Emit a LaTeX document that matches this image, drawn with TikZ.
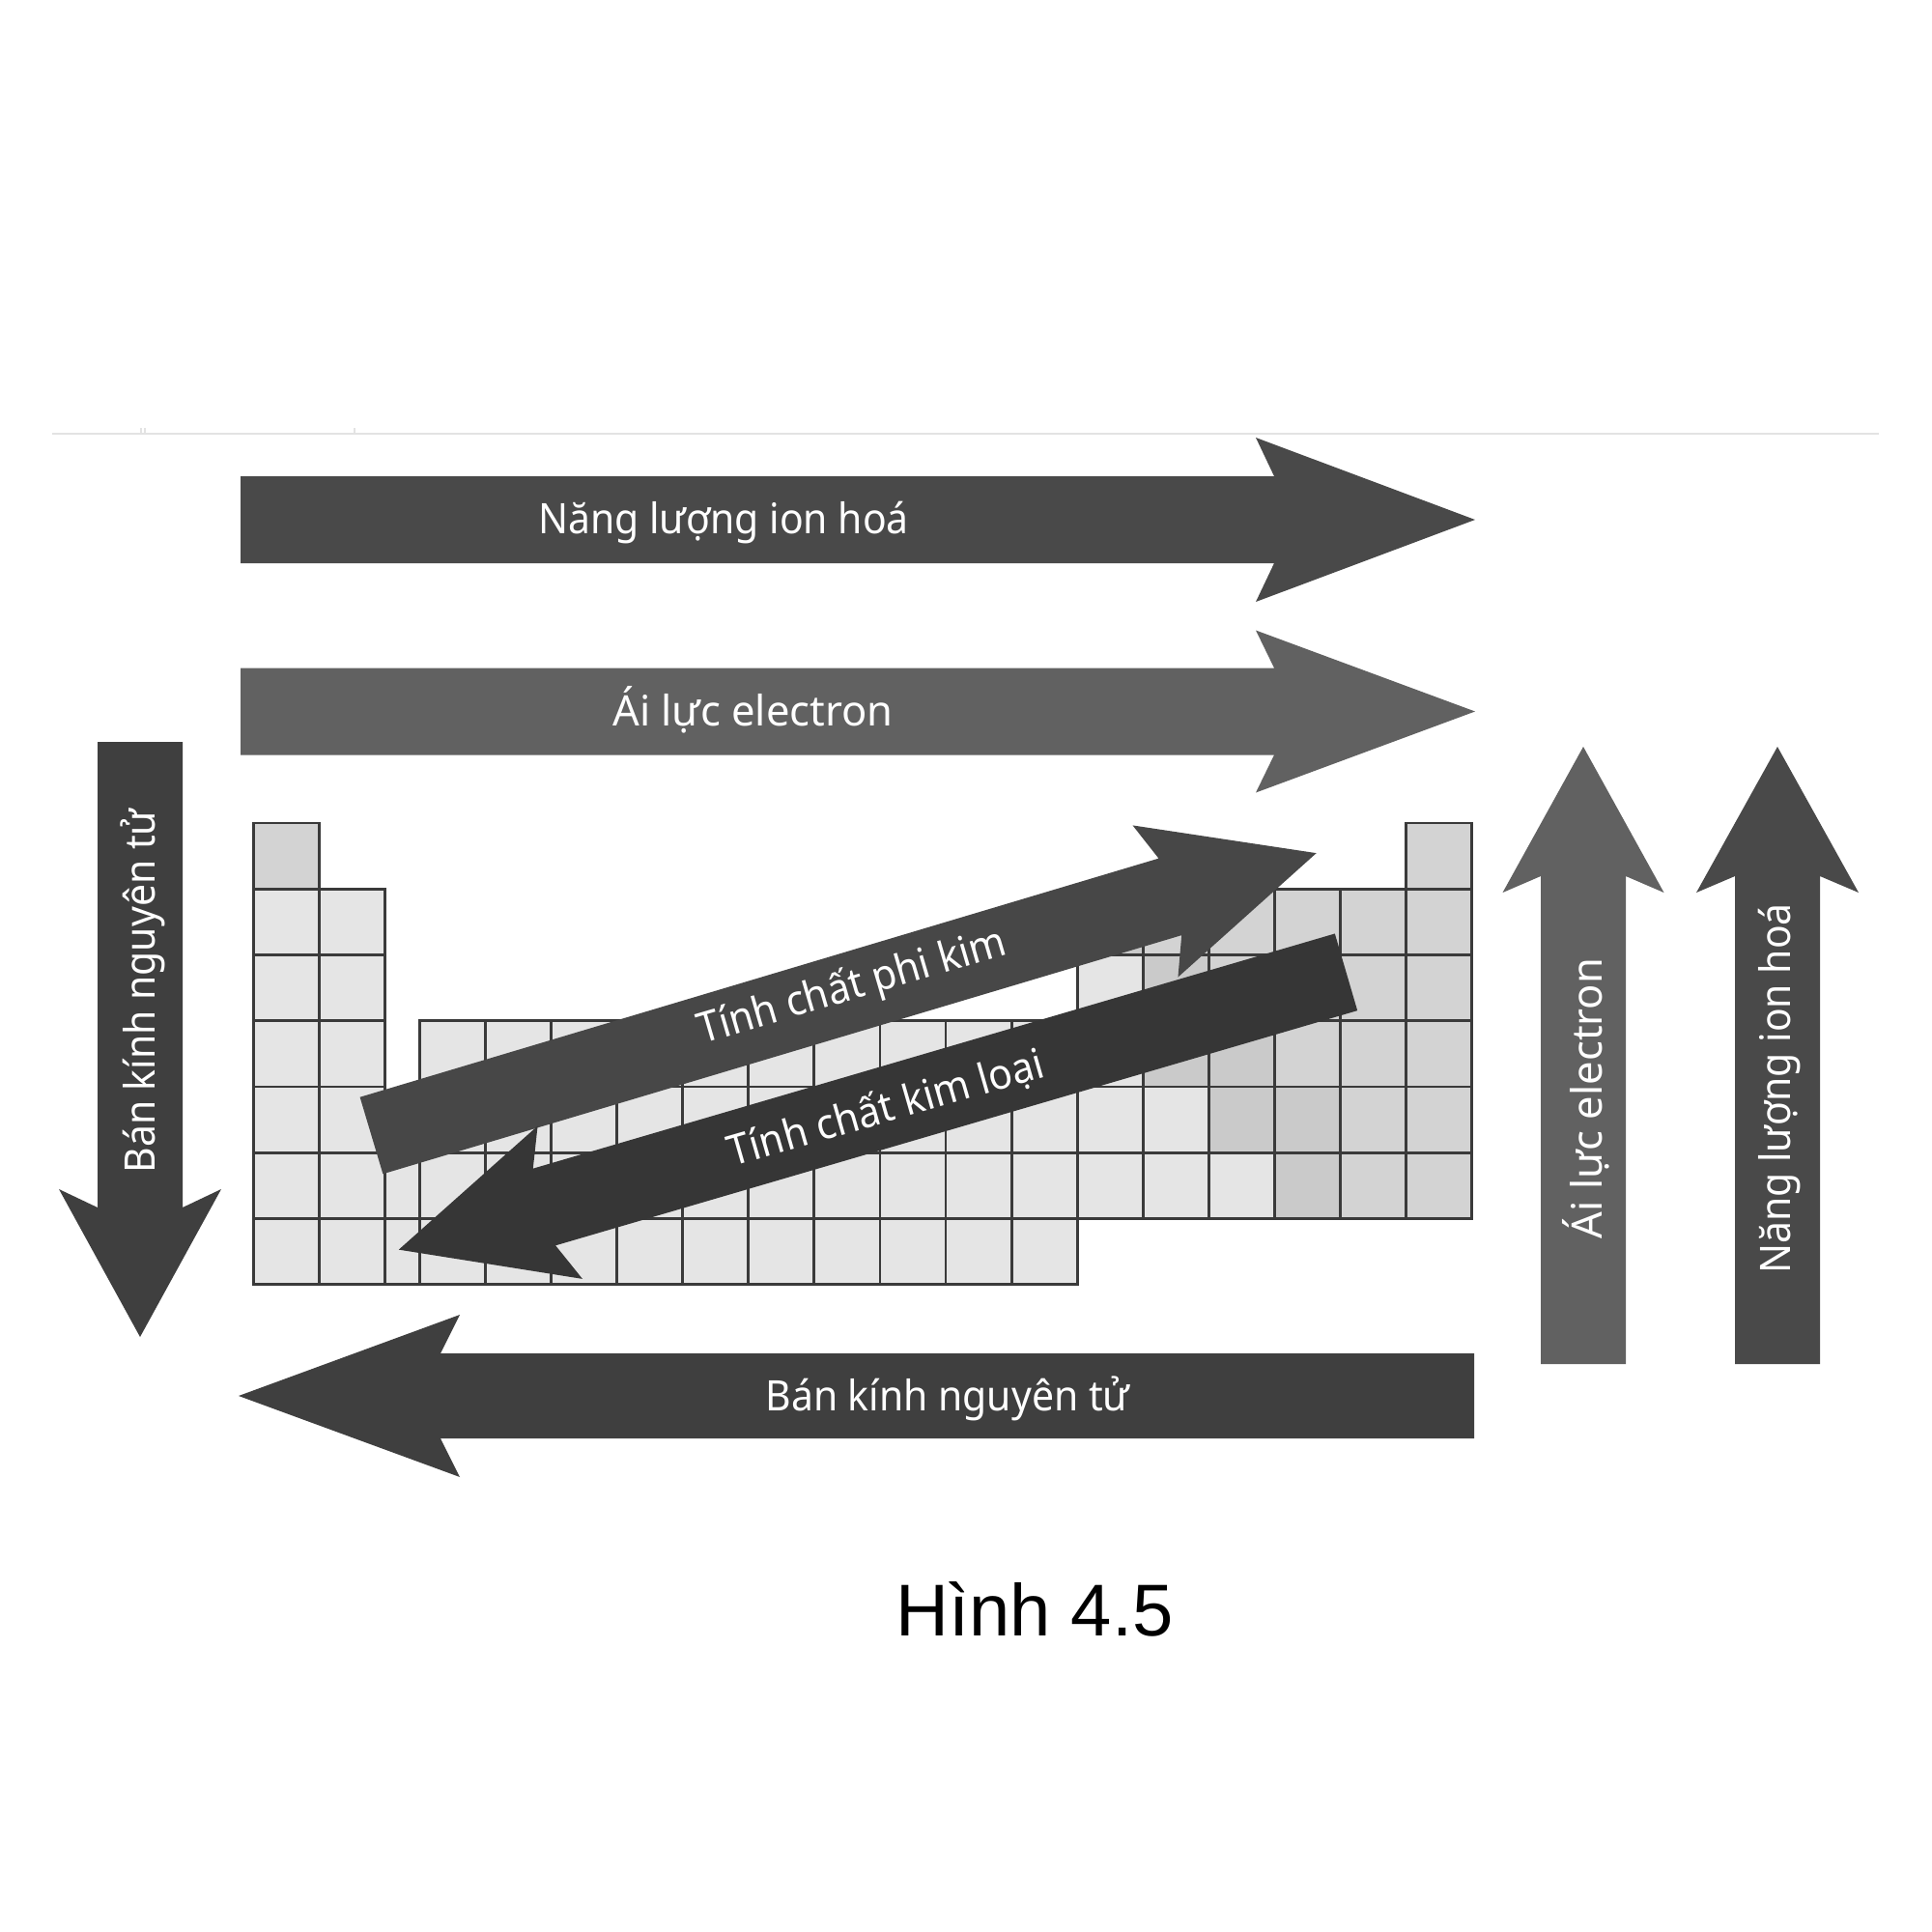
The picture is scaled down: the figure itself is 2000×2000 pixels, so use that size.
\documentclass[tikz,border=0pt]{standalone}
\usepackage{fontspec}
\newfontfamily\lblfont[FakeStretch=0.94]{Noto Sans}
\newfontfamily\lblwide{Noto Sans}
\newfontfamily\capfont{Liberation Sans}
\definecolor{gridc}{HTML}{3A3A3A}
\definecolor{cellLt}{HTML}{E5E5E5}
\definecolor{cellNm}{HTML}{D3D3D3}
\definecolor{cellMd}{HTML}{CACACA}
\definecolor{arrA}{HTML}{494949}
\definecolor{arrB}{HTML}{616161}
\definecolor{arrC}{HTML}{3F3F3F}
\definecolor{arrD}{HTML}{474747}
\definecolor{arrE}{HTML}{363636}
\definecolor{rulec}{HTML}{E3E3E3}
% #1 colour, #2 length, #3 body half width, #4 head half width, #5 back-point distance from tip, #6 notch distance from tip
\newcommand\fatarrow[6]{%
  \fill[#1] (0,-#3) -- ({#2-#6},-#3) -- ({#2-#5},-#4) -- (#2,0) -- ({#2-#5},#4) -- ({#2-#6},#3) -- (0,#3) -- cycle;}
\newcommand\pcell[3]{%
  \pgfmathsetmacro\cx{#1<3 ? 262.5+(#1-1)*68.1 : 434.2+(#1-3)*68.1}%
  \pgfmathsetmacro\cy{852+(#2-1)*68.25}%
  \filldraw[cellbox,fill=#3] (\cx,\cy) rectangle ++(68.1,68.25);}
\begin{document}
\begin{tikzpicture}[x=1pt,y=-1pt,
  cellbox/.style={draw=gridc,line width=2.8pt},
  lbl/.style={text=white,font=\lblfont\fontsize{43.5}{50}\selectfont,inner sep=0pt,anchor=base},
  lblw/.style={lbl,font=\lblwide\fontsize{43.5}{50}\selectfont},
  capt/.style={text=black,font=\capfont\fontsize{76}{86}\selectfont,inner sep=0pt,anchor=base}]
\useasboundingbox[fill=white] (0,0) rectangle (2000,2000);
% thin top rule
\draw[rulec,line width=2pt] (54,449) -- (1945,449);
\draw[rulec,line width=1.5pt] (146,449) -- (146,443) (150,449) -- (150,443) (367,449) -- (367,443);
% horizontal arrows
\begin{scope}[shift={(249,538)}]\fatarrow{arrA}{1278}{45}{85}{227}{208}\end{scope}
\begin{scope}[shift={(249,736.5)}]\fatarrow{arrB}{1278}{45}{84}{227}{208}\end{scope}
% left vertical arrow
\begin{scope}[shift={(145,768)},rotate=-90]\fatarrow{arrC}{616}{44}{84}{153}{134}\end{scope}
% periodic table
\foreach \c in {1,18} {\pcell{\c}{1}{cellNm}}
\foreach \c in {1,2} {\pcell{\c}{2}{cellLt}}
\pcell{13}{2}{cellMd}
\foreach \c in {14,...,18} {\pcell{\c}{2}{cellNm}}
\foreach \c in {1,2,13} {\pcell{\c}{3}{cellLt}}
\pcell{14}{3}{cellMd}
\foreach \c in {15,...,18} {\pcell{\c}{3}{cellNm}}
\foreach \c in {1,...,13} {\pcell{\c}{4}{cellLt}}
\foreach \c in {14,15} {\pcell{\c}{4}{cellMd}}
\foreach \c in {16,17,18} {\pcell{\c}{4}{cellNm}}
\foreach \c in {1,...,14} {\pcell{\c}{5}{cellLt}}
\foreach \c in {15,16} {\pcell{\c}{5}{cellMd}}
\foreach \c in {17,18} {\pcell{\c}{5}{cellNm}}
\foreach \c in {1,...,15} {\pcell{\c}{6}{cellLt}}
\pcell{16}{6}{cellMd}
\foreach \c in {17,18} {\pcell{\c}{6}{cellNm}}
\foreach \c in {1,...,12} {\pcell{\c}{7}{cellLt}}
\filldraw[cellbox,fill=cellLt] (398.7,1193.25) rectangle ++(35.5,68.25);
\filldraw[cellbox,fill=cellLt] (398.7,1261.5) rectangle ++(35.5,68.25);
% diagonal arrows
\begin{scope}[shift={(384.5,1175.5)},rotate=16.64]\fatarrow{arrD}{1021}{41.5}{82}{174}{158}\end{scope}
\begin{scope}[shift={(1393.5,1006.3)},rotate=196.33]\fatarrow{arrE}{1022}{41.5}{82.5}{174}{157}\end{scope}
% bottom arrow
\begin{scope}[shift={(1526,1445)},rotate=180]\fatarrow{arrC}{1279}{44}{84}{229}{209}\end{scope}
% right vertical arrows
\begin{scope}[shift={(1639,1412)},rotate=90]\fatarrow{arrB}{639}{44}{83.5}{151}{134}\end{scope}
\begin{scope}[shift={(1840,1412)},rotate=90]\fatarrow{arrA}{639}{44}{84}{151}{134}\end{scope}
% labels
\node[lbl] (t1) at (749,552) {Năng lượng ion hoá};
\node[lblw] (t2) at (779.5,751) {Ái lực electron};
\node[lbl] (t3) at (981,1460) {Bán kính nguyên tử};
\node[lbl,rotate=90] (t4) at (160,1026) {Bán kính nguyên tử};
\node[lblw,rotate=90] (t5) at (1658,1137) {Ái lực electron};
\node[lbl,rotate=90] (t6) at (1853,1127) {Năng lượng ion hoá};
\node[lbl,rotate=16.4] (t7) at (885.7,1034) {Tính chất phi kim};
\node[lbl,rotate=16.1] (t8) at (921,1161) {Tính chất kim loại};
\node[capt] (cap) at (1071,1693) {Hình 4.5};
\end{tikzpicture}
\end{document}
